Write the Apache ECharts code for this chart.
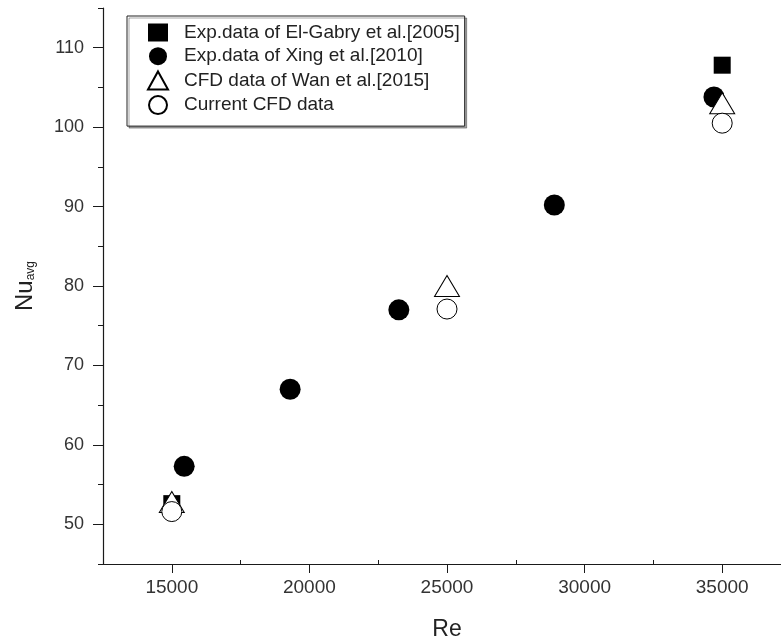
<!DOCTYPE html>
<html>
<head>
<meta charset="utf-8">
<script src="https://cdn.jsdelivr.net/npm/echarts@6/dist/echarts.min.js"></script>
<style>
html, body { margin: 0; padding: 0; background: #fff; }
#main { width: 781px; height: 644px; }
</style>
</head>
<body>
<div id="main"></div>
<script>
// data
let seriesNames = ["Exp.data of El-Gabry et al.[2005]", "Exp.data of Xing et al.[2010]", "CFD data of Wan et al.[2015]", "Current CFD data"];
let reGabry = [15000, 35000];
let nuGabry = [52.6, 107.8];
let reXing = [15450, 19300, 23250, 28900, 34700];
let nuXing = [57.3, 67.0, 77.0, 90.2, 103.8];
let reWan = [15000, 25000, 35000];
let nuWan = [52.8, 80.0, 103.0];
let reCurrent = [15000, 25000, 35000];
let nuCurrent = [51.6, 77.1, 100.5];

let xTicks = [15000, 20000, 25000, 30000, 35000];
let xMinorTicks = [12500, 17500, 22500, 27500, 32500, 37500];
let yTicks = [50, 60, 70, 80, 90, 100, 110];
let yMinorTicks = [45, 55, 65, 75, 85, 95, 105, 115];

function pairs(xs, ys){
    let out = [];
    for(let i = 0; i < xs.length; i++){
        out.push([xs[i], ys[i]]);
    }
    return out;
}

let chart = echarts.init(document.getElementById("main"));
let font = "Liberation Sans, Arial, sans-serif";
let axisColor = "#1a1a1a";

let opts = {
    animation: false,
    // right end of the axis runs past the window edge
    grid: { left: 103, width: 688, top: 8, bottom: 80, outerBoundsMode: "none", containLabel: false },
    legend: {
        orient: "vertical",
        left: 127,
        top: 16,
        padding: [7, 5, 11, 20],
        itemWidth: 20,
        itemHeight: 18,
        itemGap: 4.7,
        borderColor: "#222",
        borderWidth: 1,
        shadowColor: "rgba(0,0,0,0.35)",
        shadowOffsetX: 2,
        shadowOffsetY: 2,
        backgroundColor: "#fff",
        textStyle: { fontFamily: font, fontSize: 19, color: "#222", padding: [0, 0, 0, 11] },
        data: seriesNames
    },
    xAxis: [{
        type: "value",
        min: 12500,
        max: 37500,
        position: "bottom",
        name: "Re",
        nameLocation: "middle",
        nameGap: 54,
        nameTextStyle: { fontFamily: font, fontSize: 23, color: "#222" },
        axisLine: { show: true, lineStyle: { color: axisColor, width: 1.2 } },
        axisTick: { show: true, inside: false, length: 9, customValues: xTicks, lineStyle: { color: axisColor } },
        axisLabel: {
            customValues: xTicks,
            fontFamily: font,
            fontSize: 19,
            color: "#333",
            margin: 14,
            formatter: function(v){ return String(v); }
        },
        splitLine: { show: false }
    }, {
        type: "value",
        min: 12500,
        max: 37500,
        position: "bottom",
        axisLine: { show: false },
        axisTick: { show: true, inside: true, length: 4, customValues: xMinorTicks, lineStyle: { color: axisColor } },
        axisLabel: { show: false },
        splitLine: { show: false }
    }],
    yAxis: [{
        type: "value",
        min: 45,
        max: 115,
        position: "left",
        name: "{a|Nu}{b|avg}",
        nameLocation: "middle",
        nameGap: 66,
        nameTextStyle: {
            fontFamily: font,
            color: "#222",
            rich: {
                a: { fontFamily: font, fontSize: 24, color: "#222" },
                b: { fontFamily: font, fontSize: 12, color: "#222", verticalAlign: "bottom", padding: [10, 0, 0, 0] }
            }
        },
        axisLine: { show: true, lineStyle: { color: axisColor, width: 1.2 } },
        axisTick: { show: true, inside: false, length: 10, customValues: yTicks, lineStyle: { color: axisColor } },
        axisLabel: { customValues: yTicks, fontFamily: font, fontSize: 18, color: "#333", margin: 19 },
        splitLine: { show: false }
    }, {
        type: "value",
        min: 45,
        max: 115,
        position: "left",
        axisLine: { show: false },
        axisTick: { show: true, inside: false, length: 5, customValues: yMinorTicks, lineStyle: { color: axisColor } },
        axisLabel: { show: false },
        splitLine: { show: false }
    }],
    series: [{
        name: seriesNames[0],
        type: "scatter",
        symbol: "rect",
        symbolSize: 17,
        itemStyle: { color: "#000", opacity: 1 },
        data: pairs(reGabry, nuGabry)
    }, {
        name: seriesNames[1],
        type: "scatter",
        symbol: "circle",
        symbolSize: 21,
        itemStyle: { color: "#000", opacity: 1 },
        data: pairs(reXing, nuXing)
    }, {
        name: seriesNames[2],
        type: "scatter",
        symbol: "triangle",
        symbolSize: [25, 21],
        itemStyle: { color: "#fff", borderColor: "#000", borderWidth: 1, opacity: 1 },
        data: pairs(reWan, nuWan)
    }, {
        name: seriesNames[3],
        type: "scatter",
        symbol: "circle",
        symbolSize: 20,
        itemStyle: { color: "#fff", borderColor: "#000", borderWidth: 1, opacity: 1 },
        data: pairs(reCurrent, nuCurrent)
    }]
};
chart.setOption(opts);
</script>
</body>
</html>
